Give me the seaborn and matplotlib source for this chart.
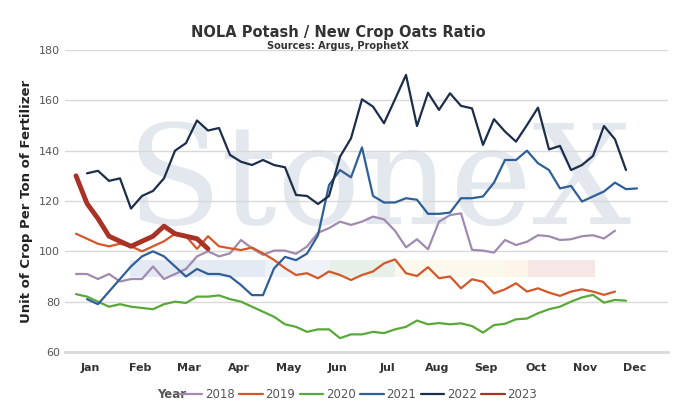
import matplotlib
matplotlib.use("Agg")
import matplotlib.pyplot as plt
import numpy as np
import pandas as pd
import seaborn as sns

months = ["Jan", "Feb", "Mar", "Apr", "May", "Jun", "Jul", "Aug", "Sep", "Oct", "Nov", "Dec"]

y2018 = [91, 91, 89, 91, 88, 89, 89, 94, 89, 91, 93, 98, 100, 98,
         99.2, 104.5, 101.2, 98.6, 100.3, 100.3, 99, 101.9, 107.4, 109.2, 111.8, 110.5,
         111.8, 113.8, 112.7, 108.2, 101.6, 104.8, 100.8, 111.8, 114.4, 115.1,
         100.6, 100.3, 99.5, 104.5, 102.5, 103.8, 106.4, 106, 104.5, 104.8, 106, 106.4, 105.1, 108.2]
y2019 = [107, 105, 103, 102, 103, 102, 100, 102, 104, 107, 106, 101, 106, 102,
         101.2, 100.5, 101.5, 99.2, 96.6, 93.3, 90.6, 91.3, 89.3, 92, 90.6, 88.6,
         90.6, 92, 95.2, 96.8, 91.3, 90.2, 93.7, 89.3, 90, 85.3,
         88.9, 87.9, 83.3, 84.9, 87.3, 84, 85.3, 83.6, 82.3, 84, 84.9, 84, 82.7, 84]
y2020 = [83, 82, 80, 78, 79, 78, 77.5, 77, 79, 80, 79.5, 82, 82, 82.5,
         81, 80, 78, 76, 74, 71, 70, 68, 69, 69, 65.5, 67,
         67, 68, 67.5, 69, 70, 72.5, 71, 71.5, 71, 71.4,
         70.3, 67.7, 70.7, 71.2, 73, 73.3, 75.4, 77, 78, 80, 81.7, 82.7, 79.6, 80.7, 80.4]
y2021 = [81, 79, 84, 89, 94, 98, 100, 98, 94, 90, 93, 91, 91,
         90, 86.6, 82.6, 82.6, 93.2, 97.8, 96.5, 99.1, 106.4, 126.3, 132.3, 129.4,
         141.3, 122, 119.4, 119.4, 121.1, 120.5, 114.9, 114.9, 115.4, 121.1,
         121.1, 121.8, 127.3, 136.3, 136.3, 140, 135, 132.3, 125, 126, 119.8, 121.8, 123.8, 127.3, 124.7, 125]
y2022 = [131, 132, 128, 129, 117, 122, 124, 129, 140, 143, 152, 148, 149,
         138.3, 135.6, 134.3, 136.3, 134.3, 133.4, 122.4, 122, 118.8, 122, 137.6, 144.9,
         160.4, 157.5, 150.9, 160.4, 170.1, 149.8, 163, 156.2, 162.8, 157.8,
         156.8, 142.3, 152.5, 147.6, 143.6, 150.2, 157.1, 140.5, 141.9, 132.3, 134.3, 137.9, 149.8, 144.5, 132.3]
y2023 = [130, 119, 113, 106, 104, 102, 104, 106, 110, 107, 106, 105, 101]

series = {
    "2018": (1, y2018, "#a08ab0"),
    "2019": (1, y2019, "#d4572a"),
    "2020": (1, y2020, "#5aa83a"),
    "2021": (2, y2021, "#2f5f97"),
    "2022": (2, y2022, "#1c2e4a"),
    "2023": (1, y2023, "#a93226"),
}

rows = []
for year, (start, vals, _) in series.items():
    for i, v in enumerate(vals):
        rows.append({"Year": year, "Week": start + i, "Ratio": v})
df = pd.DataFrame(rows)

sns.set_style("white")
fig = plt.figure(figsize=(6.76, 4.2), dpi=100)
ax = fig.add_axes([65 / 676, 1 - 352 / 420, 603 / 676, 302 / 420])

# watermark
ax.text(0.52, 0.55, "StoneX", transform=ax.transAxes, ha="center", va="center",
        fontsize=100, family="DejaVu Serif", color="#e3e7ee", zorder=0)
bands = [(130, 265, "#e4eaf3"), (265, 330, "#edf3f8"), (330, 395, "#e7f0e8"),
         (395, 505, "#fbf9ec"), (505, 528, "#fdf6e8"), (528, 595, "#f6e6e6")]
for x0, x1, c in bands:
    ax.axvspan((x0 - 65) / 11, (x1 - 65) / 11, ymin=(90 - 60) / 120, ymax=(96.5 - 60) / 120,
               color=c, lw=0, zorder=0)

palette = {k: v[2] for k, v in series.items()}
sns.lineplot(data=df[df.Year != "2023"], x="Week", y="Ratio", hue="Year",
             palette=palette, lw=1.6, ax=ax, legend=False, zorder=3)
sns.lineplot(data=df[df.Year == "2023"], x="Week", y="Ratio", color=palette["2023"],
             lw=3.5, ax=ax, legend=False, zorder=4)

ax.set_xlim(0, 603 / 11)
ax.set_ylim(60, 180)
ax.set_yticks(range(60, 181, 20))
ax.yaxis.grid(True, color="#d9d9d9", lw=1)
ax.set_xticks([2.3 + 4.5 * i for i in range(12)])
ax.set_xticklabels(months, fontsize=8, fontweight="bold", color="#333333")
ax.tick_params(axis="y", labelsize=8, colors="#555555", length=0)
ax.tick_params(axis="x", length=0, pad=8)
for s in ["top", "right", "left"]:
    ax.spines[s].set_visible(False)
ax.spines["bottom"].set_color("#d9d9d9")
ax.spines["bottom"].set_linewidth(2)
ax.set_xlabel("")
ax.set_ylabel("Unit of Crop Per Ton of Fertilizer", fontsize=9.5, fontweight="bold", color="#222222")

fig.text(0.5, 1 - 32 / 420, "NOLA Potash / New Crop Oats Ratio", ha="center", va="center",
         fontsize=10.5, fontweight="bold", color="#333333")
fig.text(0.5, 1 - 46 / 420, "Sources: Argus, ProphetX", ha="center", va="center",
         fontsize=7, fontweight="bold", color="#333333")

handles = [plt.Line2D([], [], color=v[2], lw=1.6) for v in series.values()]
leg = fig.legend(handles, list(series.keys()), loc="center", bbox_to_anchor=(358 / 676, 1 - 395 / 420),
                 ncol=6, frameon=False, fontsize=8.5, handlelength=2, columnspacing=0.4,
                 handletextpad=0.2, labelcolor="#555555")
fig.text(172 / 676, 1 - 395 / 420, "Year", ha="center", va="center", fontsize=8.5,
         fontweight="bold", color="#555555")

fig.savefig("out.png", dpi=100)
